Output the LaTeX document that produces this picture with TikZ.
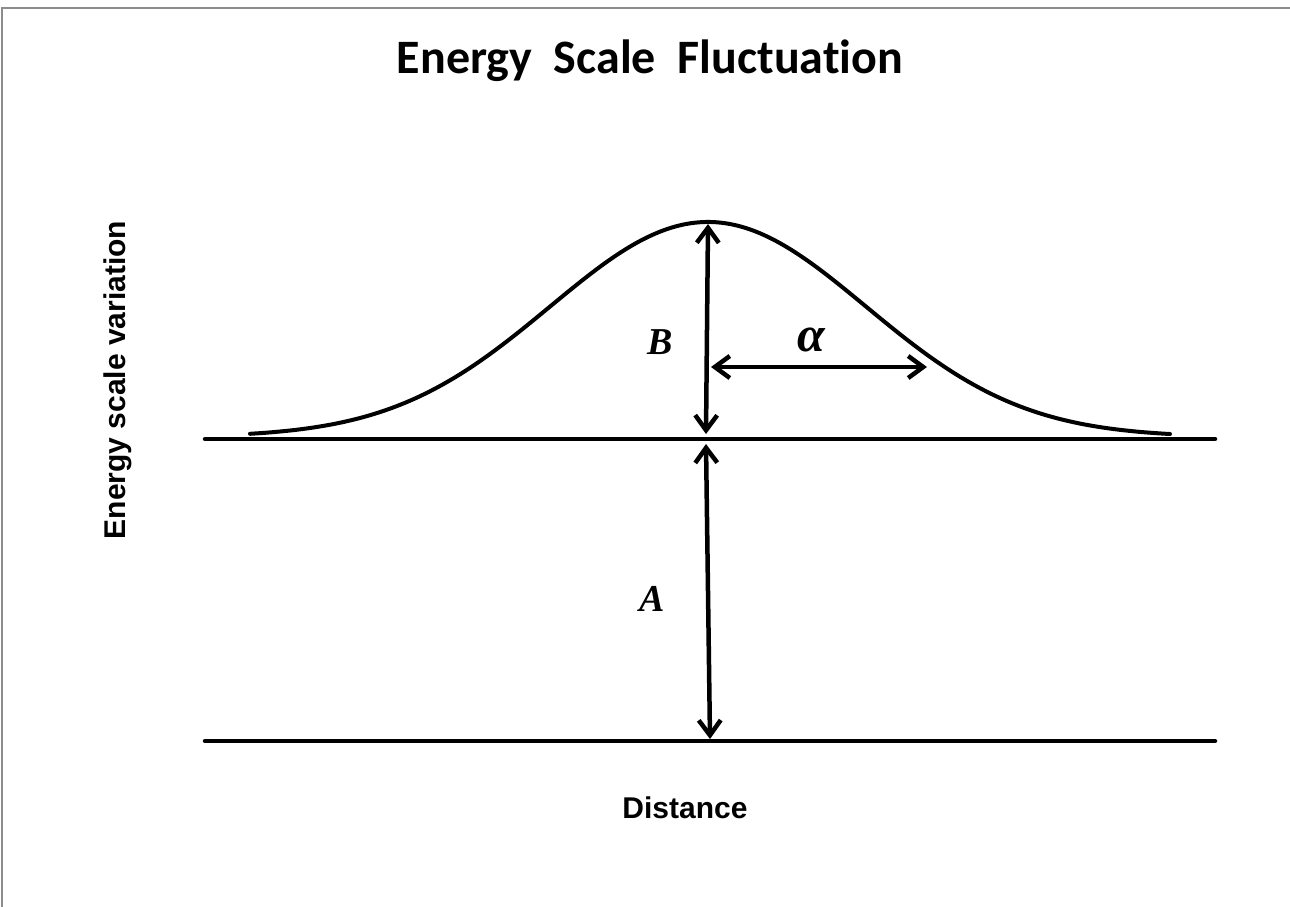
\documentclass[tikz,border=0pt]{standalone}
\usepackage{fontspec}
\usetikzlibrary{arrows.meta}
\newfontfamily\titlefont[Ligatures=NoCommon]{Carlito}
\newfontfamily\labelfont{Liberation Sans}
\newfontfamily\symfont{Liberation Serif}

\begin{document}
\begin{tikzpicture}[x=1pt,y=-1pt,
  levelline/.style={line width=4.5pt,line cap=round},
  bump/.style={line width=4pt,line cap=round},
  dimarrow/.style={line width=4.5pt,
    {Straight Barb[length=15pt,width=22pt]}-{Straight Barb[length=15pt,width=22pt]}},
  axislabel/.style={font=\labelfont\bfseries\fontsize{30}{36}\selectfont},
  letterlabel/.style={font=\symfont\bfseries\itshape\fontsize{38}{44}\selectfont}]
  \useasboundingbox (0,0) rectangle (1290,907);
  \draw[line width=2pt,gray!90] (1290,8) -- (2,8) -- (2,907);

  \node[font=\titlefont\bfseries\fontsize{48}{56}\selectfont,anchor=base] (title) at (650,74)
    {Energy\ \ Scale\ \ Fluctuation};

  \coordinate (upL) at (205,439);
  \coordinate (upR) at (1215,439);
  \coordinate (lowL) at (205,741);
  \coordinate (lowR) at (1215,741);
  \draw[levelline] (upL) -- (upR);
  \draw[levelline] (lowL) -- (lowR);

  \draw[bump,domain=250:1170,samples=120,smooth]
    plot ({\x},{437-215*exp(-((\x-708)/158)^2/2)});

  \coordinate (peak) at (708,224);
  \coordinate (baseB) at (706,434);
  \coordinate (topA) at (706,444);
  \coordinate (baseA) at (710,739);
  \coordinate (wL) at (711,367);
  \coordinate (wR) at (927,367);
  \draw[dimarrow] (peak) -- (baseB);
  \draw[dimarrow] (topA) -- (baseA);
  \draw[dimarrow] (wL) -- (wR);

  \node[letterlabel,anchor=base] (labB) at (660,354) {B};
  \node[letterlabel,anchor=base] (labA) at (652,611) {A};
  \node[letterlabel,anchor=base,font=\symfont\bfseries\itshape\fontsize{50}{56}\selectfont] (labalpha) at (811,351) {α};

  \node[axislabel,anchor=base] (xlabel) at (685,818) {Distance};
  \node[axislabel,anchor=base,rotate=90] (ylabel) at (125,380) {Energy scale variation};
\end{tikzpicture}
\end{document}
